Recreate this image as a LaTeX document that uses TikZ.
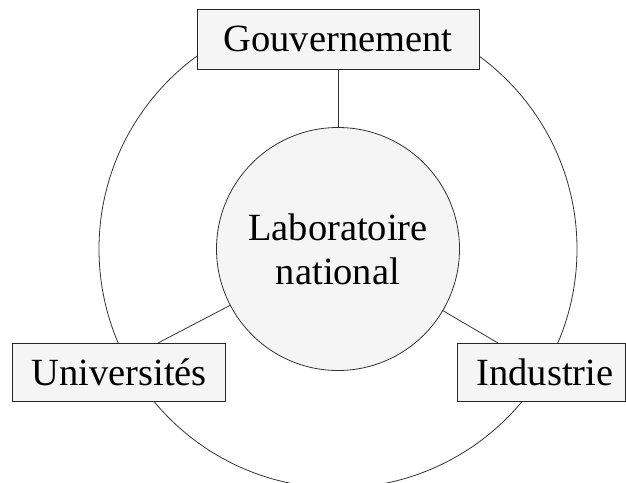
\documentclass[tikz,border=0pt]{standalone}
\usepackage{fontspec}
\setmainfont{Liberation Serif}
\definecolor{boxfill}{HTML}{F5F5F5}
\definecolor{linegray}{HTML}{333333}
\begin{document}
\begin{tikzpicture}[x=1pt,y=-1pt,
  lbl/.style={font=\fontsize{38.5}{44}\selectfont, text=black},
  actor/.style={lbl, rectangle, draw=black!85, line width=1pt, fill=boxfill, inner sep=0pt},
  link/.style={draw=linegray, line width=0.8pt}]
\useasboundingbox (0,0) rectangle (626,482);
\node[circle, draw=linegray, line width=0.8pt, minimum size=478, inner sep=0pt] (ring) at (338,249) {};
\node[lbl, circle, draw=linegray, line width=0.8pt, fill=boxfill, minimum size=243, inner sep=0pt, align=center] (lab) at (338,249) {Laboratoire\\national};
\coordinate (ua) at (158,343);
\coordinate (ia) at (498,343);
\begin{scope}[on background layer/.style={}]
\end{scope}
\draw[link] (lab) -- (ua);
\draw[link] (lab) -- (ia);
\node[actor, minimum width=282, minimum height=60] (gov) at (338,39) {Gouvernement};
\draw[link] (gov.south) -- (lab);
\node[actor, minimum width=213, minimum height=58] (univ) at (119.2,372) {Universités};
\node[actor, minimum width=168, minimum height=58] (ind) at (541,372) {\hspace*{8pt}Industrie};
\end{tikzpicture}
\end{document}
